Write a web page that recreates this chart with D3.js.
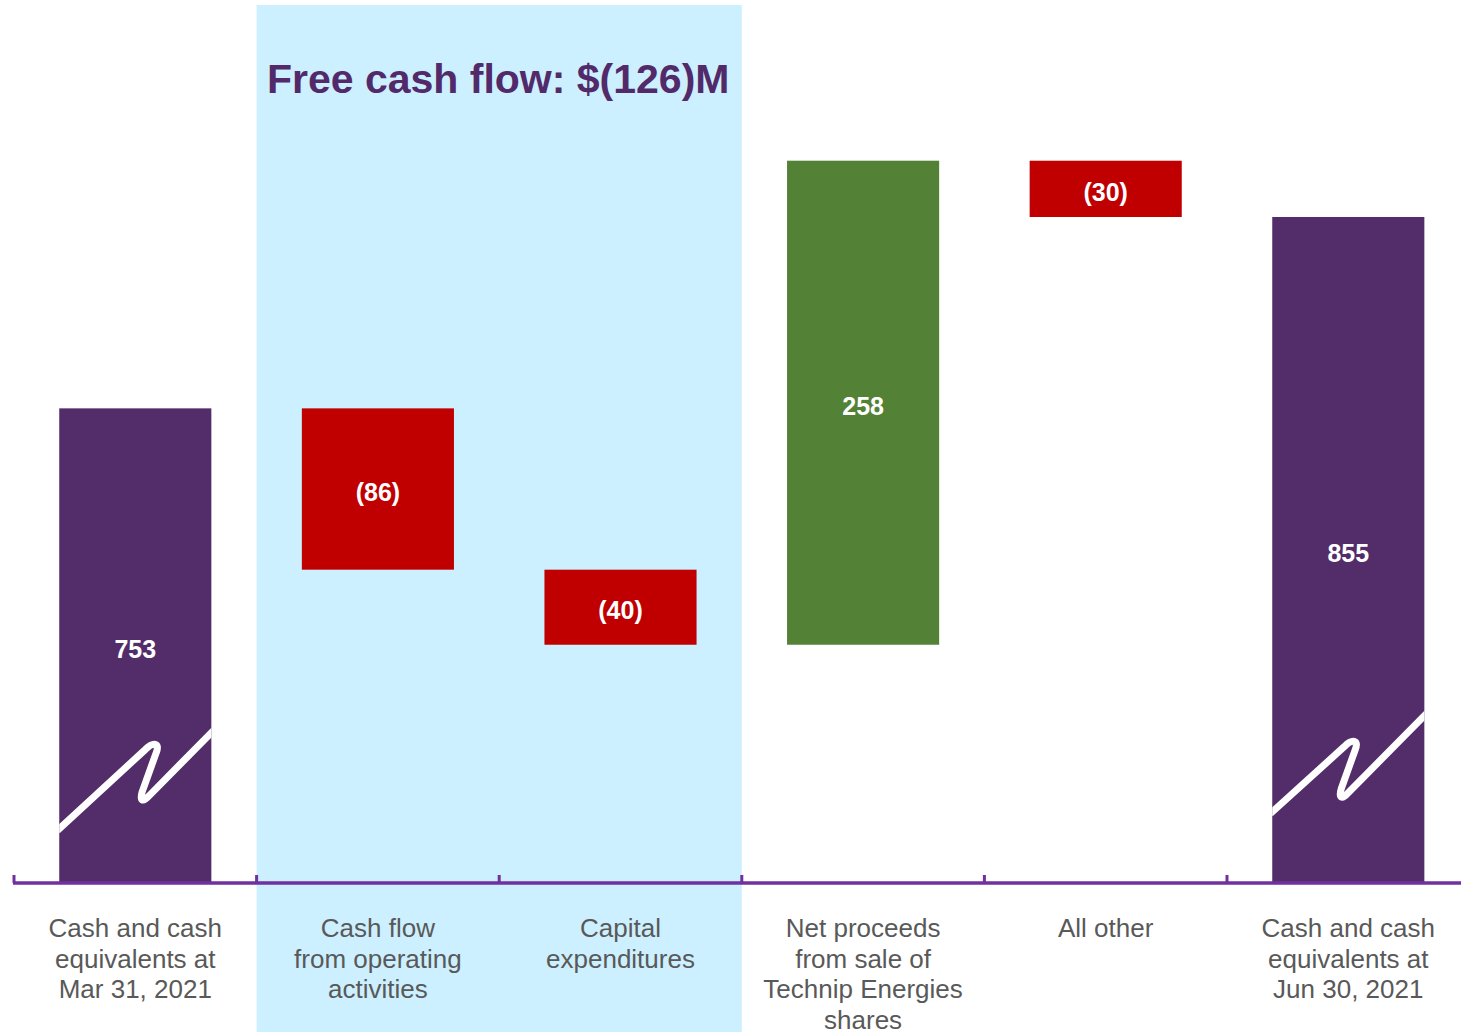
<!DOCTYPE html>
<html><head><meta charset="utf-8">
<script src="https://cdn.jsdelivr.net/npm/d3@7"></script>
<style>
html,body{margin:0;padding:0;background:#fff;}
svg{display:block;}
</style></head>
<body>
<svg id="chart" width="1461" height="1032"></svg>
<script>
const categories = [
  ["Cash and cash", "equivalents at", "Mar 31, 2021"],
  ["Cash flow", "from operating", "activities"],
  ["Capital", "expenditures"],
  ["Net proceeds", "from sale of", "Technip Energies", "shares"],
  ["All other"],
  ["Cash and cash", "equivalents at", "Jun 30, 2021"]
];
const values = [753, -86, -40, 258, -30, 855];
const kinds = ["total", "delta", "delta", "delta", "delta", "total"];
const valueLabels = ["753", "(86)", "(40)", "258", "(30)", "855"];
const breakValues = [529, 538]; // axis-break marks on the two total bars
const title = "Free cash flow: $(126)M";
const highlight = [1, 2]; // categories inside free cash flow band

const W = 1461, H = 1032;
const svg = d3.select("#chart");
const keys = categories.map((c, i) => "c" + i);

const x = d3.scaleBand().domain(keys).range([14, 14 + 6 * 242.6])
  .paddingInner(0.373).paddingOuter(0.1865);
const y = d3.scaleLinear().domain([500, 968]).range([883, 5]);
const step = x.step();
const breakPeak = [93, 79];

// compute waterfall segments
let cum = 0;
const segs = values.map((v, i) => {
  let lo, hi;
  if (kinds[i] === "total") { lo = y.domain()[0]; hi = v; cum = v; }
  else { const s = cum; cum += v; lo = Math.min(s, cum); hi = Math.max(s, cum); }
  return { key: keys[i], lo, hi, v, kind: kinds[i], label: valueLabels[i], i };
});

const colorFor = d => d.kind === "total" ? "#532C6A" : (d.v < 0 ? "#C00000" : "#538135");

// highlight band
const bandX0 = x(keys[highlight[0]]) - (step - x.bandwidth()) / 2;
const bandX1 = x(keys[highlight[highlight.length - 1]]) + x.bandwidth() + (step - x.bandwidth()) / 2;
svg.append("rect").attr("x", bandX0).attr("y", y(968)).attr("width", bandX1 - bandX0)
  .attr("height", H - y(968)).attr("fill", "#CCF0FF");

svg.append("text").attr("x", (bandX0 + bandX1) / 2 - 1).attr("y", 93)
  .attr("text-anchor", "middle").attr("font-family", "Liberation Sans, Arial, sans-serif")
  .attr("font-weight", "bold").attr("font-size", 41).attr("fill", "#522A6A").text(title);

// bars
svg.append("g").selectAll("rect").data(segs).join("rect")
  .attr("x", d => x(d.key)).attr("width", x.bandwidth())
  .attr("y", d => y(d.hi)).attr("height", d => y(d.lo) - y(d.hi))
  .attr("fill", colorFor);

// axis-break marks
const defs = svg.append("defs");
segs.filter(d => d.kind === "total").forEach((d, k) => {
  const bv = breakValues[k];
  if (bv == null) return;
  const w = x.bandwidth();
  const x0 = x(d.key), y0 = y(bv);
  const px = breakPeak[k];
  const rise = px === 93 ? 0 : 14;
  defs.append("clipPath").attr("id", "clip" + k).append("rect")
    .attr("x", x0).attr("y", y(d.hi)).attr("width", w).attr("height", y(d.lo) - y(d.hi));
  const p = d3.path();
  p.moveTo(x0 - 2, y0 + 2);
  p.lineTo(x0 + px - 7, y0 - 79 + rise);
  p.bezierCurveTo(x0 + px + 1, y0 - 87 + rise, x0 + px + 8, y0 - 86 + rise, x0 + px + 4, y0 - 76 + rise);
  p.lineTo(x0 + px - 10, y0 - 37 + rise);
  p.bezierCurveTo(x0 + px - 13, y0 - 27 + rise, x0 + px - 9, y0 - 26 + rise, x0 + px - 3, y0 - 33 + rise);
  p.lineTo(x0 + w + 3, y0 - 99);
  svg.append("path").attr("d", p.toString()).attr("fill", "none")
    .attr("stroke", "#fff").attr("stroke-width", 7).attr("stroke-linejoin", "round")
    .attr("clip-path", "url(#clip" + k + ")");
});

// value labels
svg.append("g").selectAll("text").data(segs).join("text")
  .attr("x", d => x(d.key) + x.bandwidth() / 2)
  .attr("y", d => (y(d.lo) + y(d.hi)) / 2 + 3)
  .attr("text-anchor", "middle").attr("dominant-baseline", "central")
  .attr("font-family", "Liberation Sans, Arial, sans-serif").attr("font-weight", "bold")
  .attr("font-size", 25).attr("fill", "#fff").text(d => d.label);

// axis line + ticks
const axisY = y(500);
svg.append("line").attr("x1", 13).attr("x2", W).attr("y1", axisY).attr("y2", axisY)
  .attr("stroke", "#7030A0").attr("stroke-width", 3.5);
const tickXs = keys.map(k => x(k) - (step - x.bandwidth()) / 2);
svg.append("g").selectAll("line").data(tickXs).join("line")
  .attr("x1", d => d).attr("x2", d => d).attr("y1", axisY - 8).attr("y2", axisY)
  .attr("stroke", "#7030A0").attr("stroke-width", 3);

// category labels
const lab = svg.append("g").attr("font-family", "Liberation Sans, Arial, sans-serif")
  .attr("font-size", 26).attr("fill", "#595959").attr("text-anchor", "middle");
categories.forEach((lines, i) => {
  const cx = x(keys[i]) + x.bandwidth() / 2;
  const t = lab.append("text").attr("x", cx).attr("y", 937);
  lines.forEach((ln, j) => t.append("tspan").attr("x", cx)
    .attr("dy", j === 0 ? 0 : 30.6).text(ln));
});
</script>
</body></html>
